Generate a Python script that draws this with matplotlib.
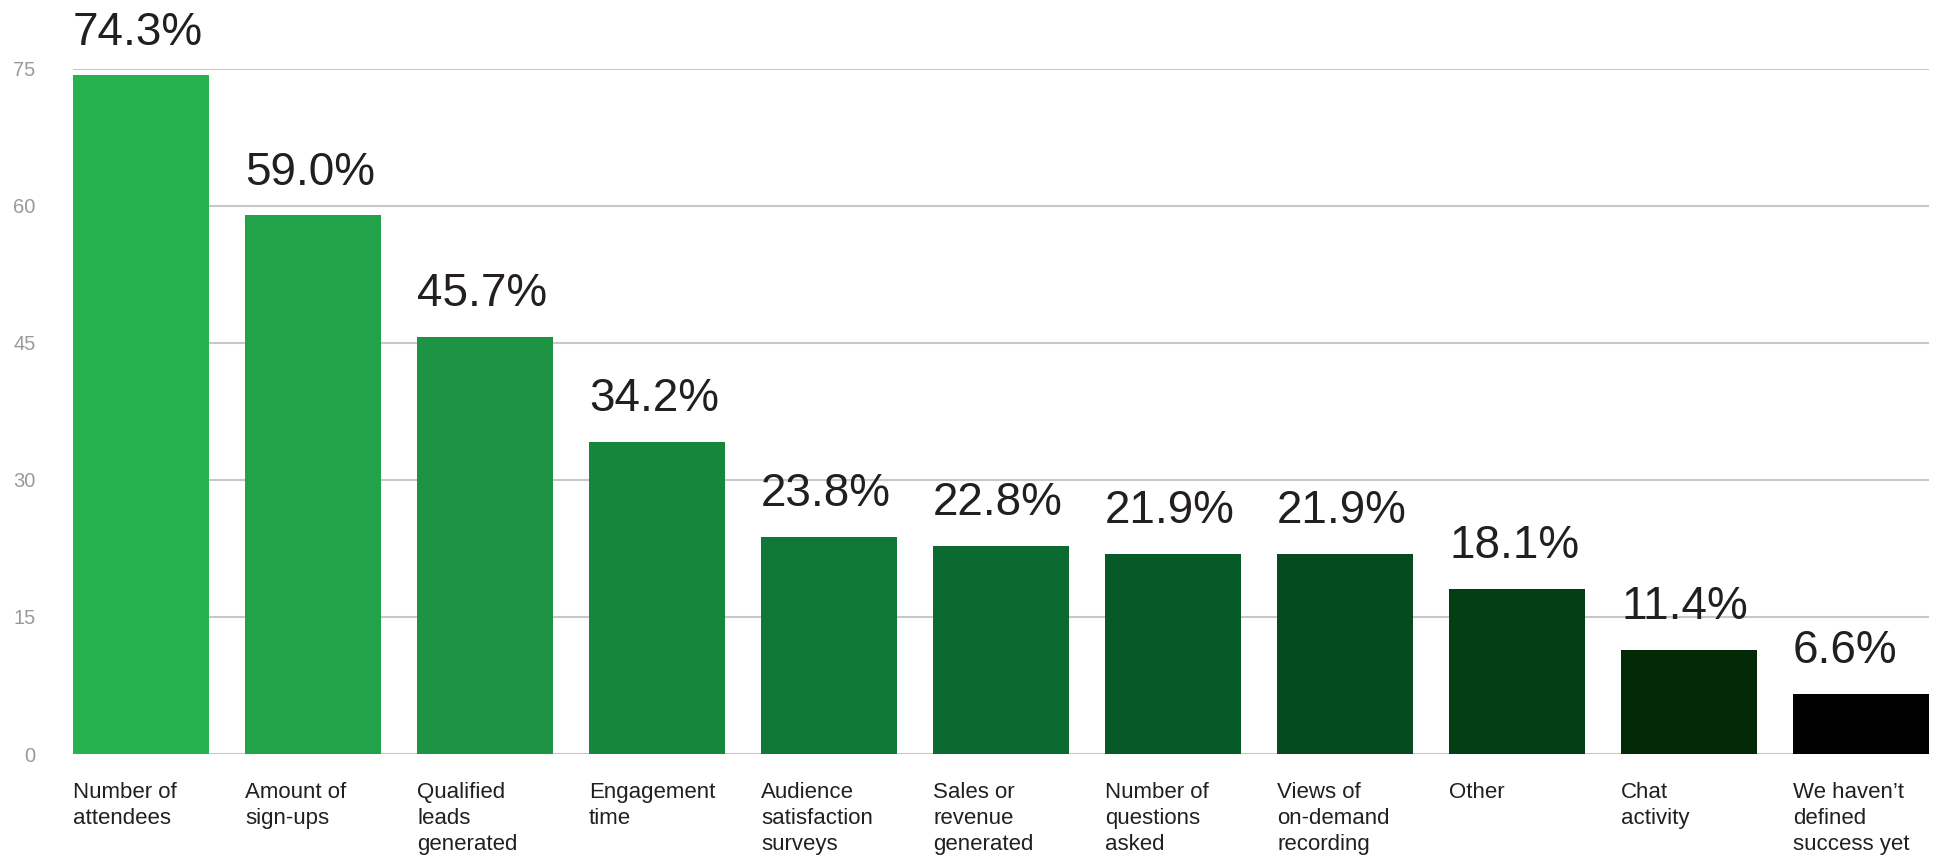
import matplotlib.pyplot as plt
import numpy as np

# Success metrics used, share of respondents (%)
categories = [
    "Number of\nattendees",
    "Amount of\nsign-ups",
    "Qualified\nleads\ngenerated",
    "Engagement\ntime",
    "Audience\nsatisfaction\nsurveys",
    "Sales or\nrevenue\ngenerated",
    "Number of\nquestions\nasked",
    "Views of\non-demand\nrecording",
    "Other",
    "Chat\nactivity",
    "We haven\u2019t\ndefined\nsuccess yet",
]
values = [74.3, 59.0, 45.7, 34.2, 23.8, 22.8, 21.9, 21.9, 18.1, 11.4, 6.6]
colors = ["#27b24f", "#22a34a", "#1e9344", "#15873d", "#0f7837", "#0b6a30",
          "#065a28", "#044c1f", "#033d12", "#022a06", "#000000"]
yticks = [0, 15, 30, 45, 60, 75]

plt.rcParams['font.family'] = ['Liberation Sans', 'DejaVu Sans']

fig = plt.figure(figsize=(19.41, 8.57), dpi=100)
ax = fig.add_axes([73 / 1941, 103 / 857, (1929 - 73) / 1941, (754 - 69) / 857])

x = np.arange(len(values))
bar_w = 0.79
ax.bar(x, values, width=bar_w, align='edge', color=colors, zorder=3)

ax.set_xlim(0, len(values) - 1 + bar_w)
ax.set_ylim(0, 75)
ax.set_yticks(yticks)
ax.set_yticklabels([str(t) for t in yticks], fontsize=14.5, color="#9a9a9a")
ax.tick_params(axis='y', length=0, pad=27)
ax.set_xticks([])
ax.grid(axis='y', color="#c8c8c8", linewidth=1.5, zorder=0)
for s in ax.spines.values():
    s.set_visible(False)

# value labels above each bar, left-aligned to the bar edge
for xi, v in zip(x, values):
    ax.annotate(f"{v:.1f}%", xy=(xi, v), xytext=(0, 22), textcoords='offset points',
                ha='left', va='baseline', fontsize=33, color="#231f20",
                annotation_clip=False)

# category names under the bars
for xi, name in zip(x, categories):
    ax.annotate(name, xy=(xi, 0), xytext=(0, -20), textcoords='offset points',
                ha='left', va='top', fontsize=16, color="#231f20",
                linespacing=1.32, annotation_clip=False)

fig.savefig("out.png", dpi=100, facecolor="white")
